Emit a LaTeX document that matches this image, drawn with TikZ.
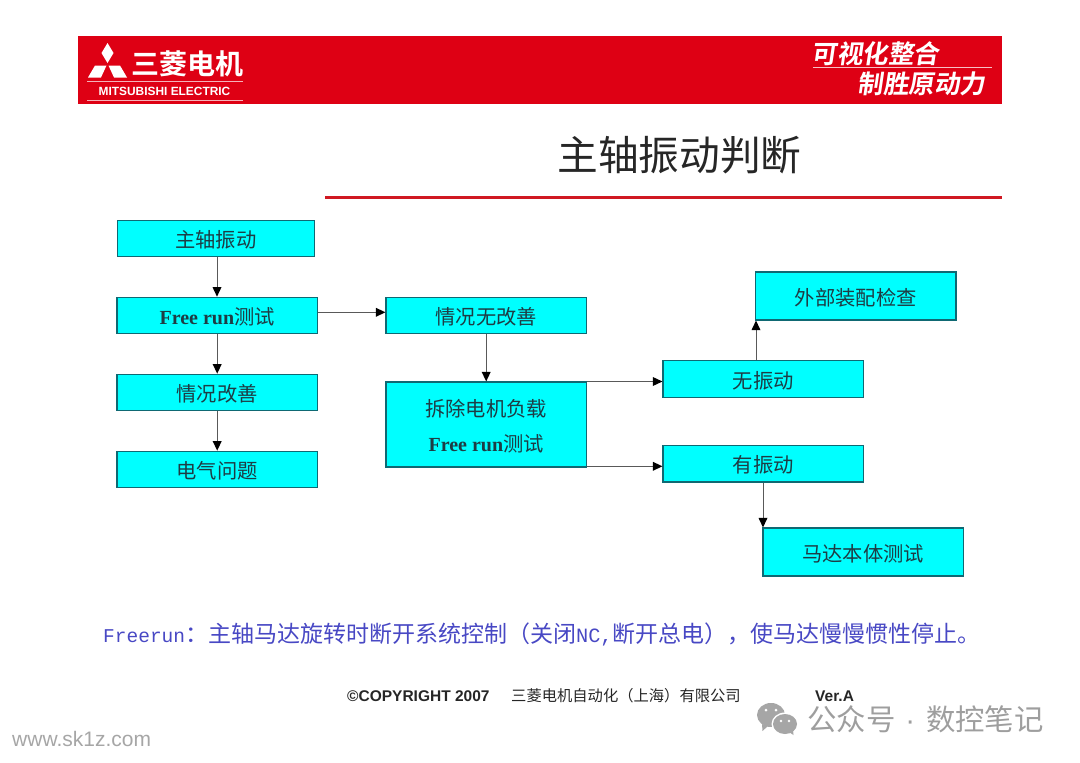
\documentclass[tikz,border=0pt]{standalone}
\usepackage{fontspec}
\setmainfont{Liberation Serif}
\newfontfamily\cjk{Noto Sans CJK SC}
\newfontfamily\cjkbold{Noto Sans CJK SC Bold}
\newfontfamily\arialf{Liberation Sans}
\newfontfamily\monof{Liberation Mono}
\usetikzlibrary{arrows.meta,calc}
\definecolor{boxcyan}{RGB}{0,255,255}
\definecolor{hdrred}{RGB}{222,0,20}
\definecolor{linered}{RGB}{208,24,34}
\definecolor{noteblue}{RGB}{72,72,196}
\definecolor{boxedge}{RGB}{15,105,115}
\definecolor{txt}{RGB}{30,60,68}
\tikzset{
  flowbox/.style={draw=boxedge,line width=1.1pt,fill=boxcyan,rectangle,inner sep=0pt,
    text=txt,font=\fontsize{20.3}{24}\selectfont\cjk,align=center},
  conn/.style={draw=black!65,line width=1pt,-{Triangle[length=9.5pt,width=9pt,color=black,fill=black,line width=0pt]}},
  slogan/.style={text=white,font=\fontsize{25.6}{25.6}\selectfont\cjkbold,xslant=0.15},
}
\newcommand{\fr}{{\bfseries\rmfamily\fontsize{20}{22}\selectfont Free run}}
\newcommand{\lbl}[1]{\raisebox{-1.5pt}[\height][\depth]{#1}}
\begin{document}
\begin{tikzpicture}[x=1pt,y=-1pt]
\useasboundingbox (0,0) rectangle (1080,763);
% header
\fill[hdrred] (78,36) rectangle (1002,104);
\fill[white] (107.5,43) -- (113.5,53) -- (107.5,63) -- (101.5,53) -- cycle;
\fill[white] (88,77.5) -- (95,65.5) -- (106.5,65.5) -- (101,77.5) -- cycle;
\fill[white] (127,77.5) -- (120,65.5) -- (108.5,65.5) -- (114,77.5) -- cycle;
\node[anchor=center,text=white,font=\fontsize{28}{28}\selectfont\cjkbold] (logo) at (187,64) {三菱电机};
\fill[white!70!hdrred] (87,81) rectangle (243,81.8);
\fill[white!70!hdrred] (87,99.5) rectangle (243,100.3);
\node[text=white,font=\fontsize{11.9}{12}\selectfont\arialf\bfseries] (brand) at (164.5,91) {MITSUBISHI ELECTRIC};
\node[slogan] (slogana) at (877,54) {可视化整合};
\fill[white!75!hdrred] (813,67) rectangle (992,68);
\node[slogan] (sloganb) at (923,84) {制胜原动力};
% title
\node[font=\fontsize{40.7}{41}\selectfont\cjk,text=black!85] (title) at (679.5,155) {主轴振动判断};
\fill[linered] (325,195.5) rectangle (1002,198.5);
% boxes
\node[flowbox,minimum width=197pt,minimum height=36.6pt] (a) at (215.7,238.5) {\lbl{主轴振动}};
\node[flowbox,minimum width=200.5pt,minimum height=36.6pt] (b) at (217.2,315.5) {\lbl{\fr 测试}};
\node[flowbox,minimum width=200.5pt,minimum height=36.6pt] (c) at (217.2,392.5) {\lbl{情况改善}};
\node[flowbox,minimum width=200.5pt,minimum height=36.6pt] (d) at (217.2,469.5) {\lbl{电气问题}};
\node[flowbox,minimum width=200.5pt,minimum height=36.6pt] (e) at (486.2,315.5) {\lbl{情况无改善}};
\node[flowbox,minimum width=200.5pt,minimum height=85pt] (f) at (486.2,424.5) {\lbl{拆除电机负载}\\[11.5pt]\lbl{\fr 测试}};
\node[flowbox,minimum width=200.5pt,minimum height=36.6pt] (g) at (763.2,379) {\lbl{无振动}};
\node[flowbox,minimum width=200.5pt,minimum height=36.6pt] (h) at (763.2,463.7) {\lbl{有振动}};
\node[flowbox,minimum width=200.5pt,minimum height=48pt] (i) at (855.7,296) {\lbl{外部装配检查}};
\node[flowbox,minimum width=200.5pt,minimum height=48pt] (j) at (863.2,552) {\lbl{马达本体测试}};
% connectors
\coordinate (ab) at (217,0);
\draw[conn] (a.south -| ab) -- (b.north -| ab);
\draw[conn] (b) -- (c);
\draw[conn] (c) -- (d);
\coordinate (be) at (0,312.3);
\draw[conn] (b.east |- be) -- (e.west |- be);
\draw[conn] (e) -- (f);
\coordinate (fg) at (0,381.5);
\coordinate (fh) at (0,466.3);
\draw[conn] (f.east |- fg) -- (g.west |- fg);
\draw[conn] (f.east |- fh) -- (h.west |- fh);
\coordinate (gi) at (756,0);
\draw[conn] (g.north -| gi) -- (i.south -| gi);
\coordinate (hj) at (763,0);
\draw[conn] (h.south -| hj) -- (j.north -| hj);
% note
\node[anchor=west,inner sep=0pt,text=noteblue,font=\fontsize{23}{26}\selectfont\cjk] (note) at (103,634) {{\monof\fontsize{19.5}{24}\selectfont Freerun}：主轴马达旋转时断开系统控制（关闭{\monof\fontsize{20.3}{24}\selectfont NC,}断开总电），使马达慢慢惯性停止。};
% footer
\node[anchor=west,inner sep=0pt,font=\fontsize{15.5}{17}\selectfont\arialf\bfseries,text=black!85] (copy) at (347,696) {©COPYRIGHT 2007};
\node[anchor=west,inner sep=0pt,font=\fontsize{15.3}{17}\selectfont\cjk,text=black!85] (corp) at (511,696) {三菱电机自动化（上海）有限公司};
\node[anchor=west,inner sep=0pt,font=\fontsize{15.5}{17}\selectfont\arialf\bfseries,text=black!85] (ver) at (815,696) {Ver.A};
% watermark
\node[anchor=west,inner sep=0pt,text=black!35,font=\fontsize{21}{22}\selectfont\arialf] (www) at (12,739) {www.sk1z.com};
\fill[black!35] (771,715) ellipse (14pt and 12pt);
\fill[black!35] (762,724) -- (768,726) -- (762.5,731) -- cycle;
\fill[white] (766,710) circle (1.5pt) (776,710) circle (1.5pt);
\fill[white] (785,724) ellipse (13.5pt and 11.5pt);
\fill[black!35] (785,724) ellipse (12pt and 10pt);
\fill[black!35] (789,732) -- (793,730) -- (793.5,735) -- cycle;
\fill[white] (781,721) circle (1.4pt) (789,721) circle (1.4pt);
\node[anchor=west,inner sep=0pt,text=black!38,font=\fontsize{29.4}{30}\selectfont\cjk] (wm) at (807,719) {公众号\hspace{10pt}{\arialf ·}\hspace{11pt}数控笔记};
\end{tikzpicture}
\end{document}
